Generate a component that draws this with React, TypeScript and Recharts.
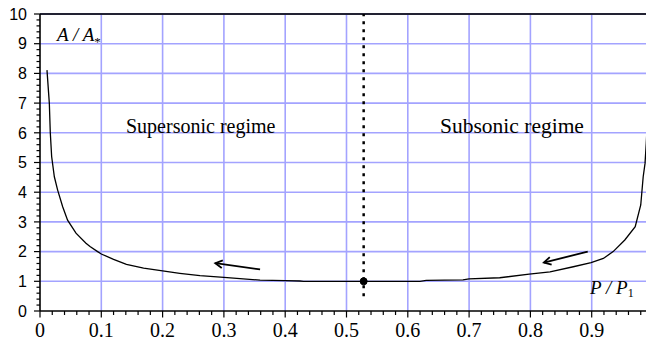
import { LineChart, Line, XAxis, YAxis, ReferenceLine, ReferenceDot } from "recharts";

// pressure ratio P/P1 and area ratio A/A*
const pressureRatio = [
  0.0114, 0.0152, 0.0168, 0.019, 0.0234, 0.0288, 0.037, 0.045, 0.0587, 0.075,
  0.0816, 0.094, 0.1, 0.12, 0.141, 0.169, 0.2, 0.228, 0.261, 0.3, 0.321, 0.359,
  0.4, 0.424, 0.43, 0.528, 0.62, 0.63, 0.69, 0.7, 0.75, 0.798, 0.832, 0.87,
  0.899, 0.919, 0.935, 0.954, 0.971, 0.98, 0.984, 0.987, 0.989, 0.993,
];
const areaRatio = [
  8.11, 7.0, 6.0, 5.2, 4.52, 4.07, 3.51, 3.06, 2.62, 2.28,
  2.17, 2.0, 1.92, 1.74, 1.57, 1.44, 1.35, 1.27, 1.19, 1.13, 1.1, 1.04,
  1.02, 1.01, 1.0, 1.0, 1.0, 1.03, 1.05, 1.08, 1.12, 1.24, 1.32, 1.49,
  1.63, 1.77, 2.0, 2.39, 2.84, 3.57, 4.52, 4.97, 5.65, 7.2,
];

const xGrid = [0.1, 0.2, 0.3, 0.4, 0.5, 0.6, 0.7, 0.8, 0.9];
const yGrid = [1, 2, 3, 4, 5, 6, 7, 8, 9];

const throatP = 0.528;
const throatA = 1;

// arrows: [tail, tip]
const superArrow = [{ x: 0.359, y: 1.4 }, { x: 0.286, y: 1.61 }];
const subArrow = [{ x: 0.8935, y: 2.0 }, { x: 0.822, y: 1.63 }];

const xMinor = Array.from({ length: 51 }, (_, i) => Math.round(i * 2) / 100);
const yMinor = Array.from({ length: 51 }, (_, i) => Math.round(i * 2) / 10);

const data = pressureRatio.map((p, i) => ({ p, a: areaRatio[i] }));

const GRID = "#a3a3ff";
const SERIF = "Liberation Serif, Times New Roman, DejaVu Serif, serif";
const SANS = "Liberation Sans, Arial, sans-serif";

function YTick(props: any) {
  const { x, y, payload } = props;
  const v = payload.value;
  const major = Math.abs(v - Math.round(v)) < 1e-6;
  return (
    <g>
      <line x1={x - (major ? 6 : 3.5)} x2={x} y1={y} y2={y} stroke="#000" strokeWidth={1.2} />
      {major && (
        <text x={x - 13} y={y} dy="0.36em" textAnchor="end" style={{ fontFamily: SANS, fontSize: 16 }} fill="#000">
          {v}
        </text>
      )}
    </g>
  );
}

function XTick(props: any) {
  const { x, y, payload } = props;
  const v = payload.value;
  const major = Math.abs(v * 10 - Math.round(v * 10)) < 1e-6;
  return (
    <g>
      <line x1={x} x2={x} y1={y} y2={y + (major ? 6.5 : 4)} stroke="#000" strokeWidth={1.2} />
      {major && v < 0.95 && (
        <text x={x} y={y + 25.5} textAnchor="middle" style={{ fontFamily: SERIF, fontSize: 20 }} fill="#000">
          {v}
        </text>
      )}
    </g>
  );
}

function Arrow(props: any) {
  const { x1, y1, x2, y2 } = props;
  const ang = Math.atan2(y2 - y1, x2 - x1);
  const len = 8;
  const spread = 0.5;
  const ax = x2 - len * Math.cos(ang - spread);
  const ay = y2 - len * Math.sin(ang - spread);
  const bx = x2 - len * Math.cos(ang + spread);
  const by = y2 - len * Math.sin(ang + spread);
  return (
    <g>
      <line x1={x1} y1={y1} x2={x2} y2={y2} stroke="#000" strokeWidth={1.8} />
      <polyline points={`${ax},${ay} ${x2},${y2} ${bx},${by}`} fill="none" stroke="#000" strokeWidth={1.8} />
    </g>
  );
}

const italicText = { fontFamily: SERIF, fontSize: 19, fontStyle: "italic" as const };

export default function App() {
  return (
    <div style={{ position: "absolute", left: 0, top: 0, width: 646, height: 340, overflow: "hidden", background: "#fff" }}>
      <LineChart width={653} height={340} data={data} margin={{ top: 14, right: 0, bottom: 0, left: 0 }}>
        {xGrid.map((v) => (
          <ReferenceLine key={`gx${v}`} x={v} stroke={GRID} strokeWidth={1.6} />
        ))}
        {yGrid.map((v) => (
          <ReferenceLine key={`gy${v}`} y={v} stroke={GRID} strokeWidth={1.6} />
        ))}
        <ReferenceLine y={10} stroke="#222233" strokeWidth={2} />
        <XAxis
          type="number"
          dataKey="p"
          domain={[0, 1]}
          ticks={xMinor}
          interval={0}
          tickSize={0}
          tickMargin={0}
          tickLine={false}
          tick={<XTick />}
          height={29}
          axisLine={{ stroke: "#000", strokeWidth: 1.6 }}
          allowDataOverflow
        />
        <YAxis
          type="number"
          domain={[0, 10]}
          ticks={yMinor}
          interval={0}
          tickSize={0}
          tickMargin={0}
          tickLine={false}
          tick={<YTick />}
          width={40}
          axisLine={{ stroke: "#000", strokeWidth: 1.6 }}
          allowDataOverflow
        />
        <ReferenceLine
          segment={[{ x: throatP, y: 0.5 }, { x: throatP, y: 10 }]}
          stroke="#000"
          strokeWidth={2.5}
          strokeDasharray="3 5"
        />
        <Line type="linear" dataKey="a" stroke="#000" strokeWidth={1.3} dot={false} isAnimationActive={false} />
        <ReferenceLine segment={superArrow} shape={Arrow} />
        <ReferenceLine segment={subArrow} shape={Arrow} />
        <ReferenceDot x={throatP} y={throatA} r={3.5} fill="#000" stroke="#000" />
      </LineChart>
      <svg width={646} height={340} style={{ position: "absolute", left: 0, top: 0, pointerEvents: "none" }}>
        <text x={57} y={41} style={italicText} fill="#000">
          A / A<tspan style={{ fontSize: 13, fontStyle: "normal" }} dy={5}>*</tspan>
        </text>
        <text x={126} y={133} style={{ fontFamily: SERIF, fontSize: 20 }} fill="#000">
          Supersonic regime
        </text>
        <text x={440} y={133} style={{ fontFamily: SERIF, fontSize: 21.5 }} fill="#000">
          Subsonic regime
        </text>
        <text x={590} y={293.5} style={italicText} fill="#000">
          P / P<tspan style={{ fontSize: 12, fontStyle: "normal" }} dy={3.5}>1</tspan>
        </text>
      </svg>
    </div>
  );
}
